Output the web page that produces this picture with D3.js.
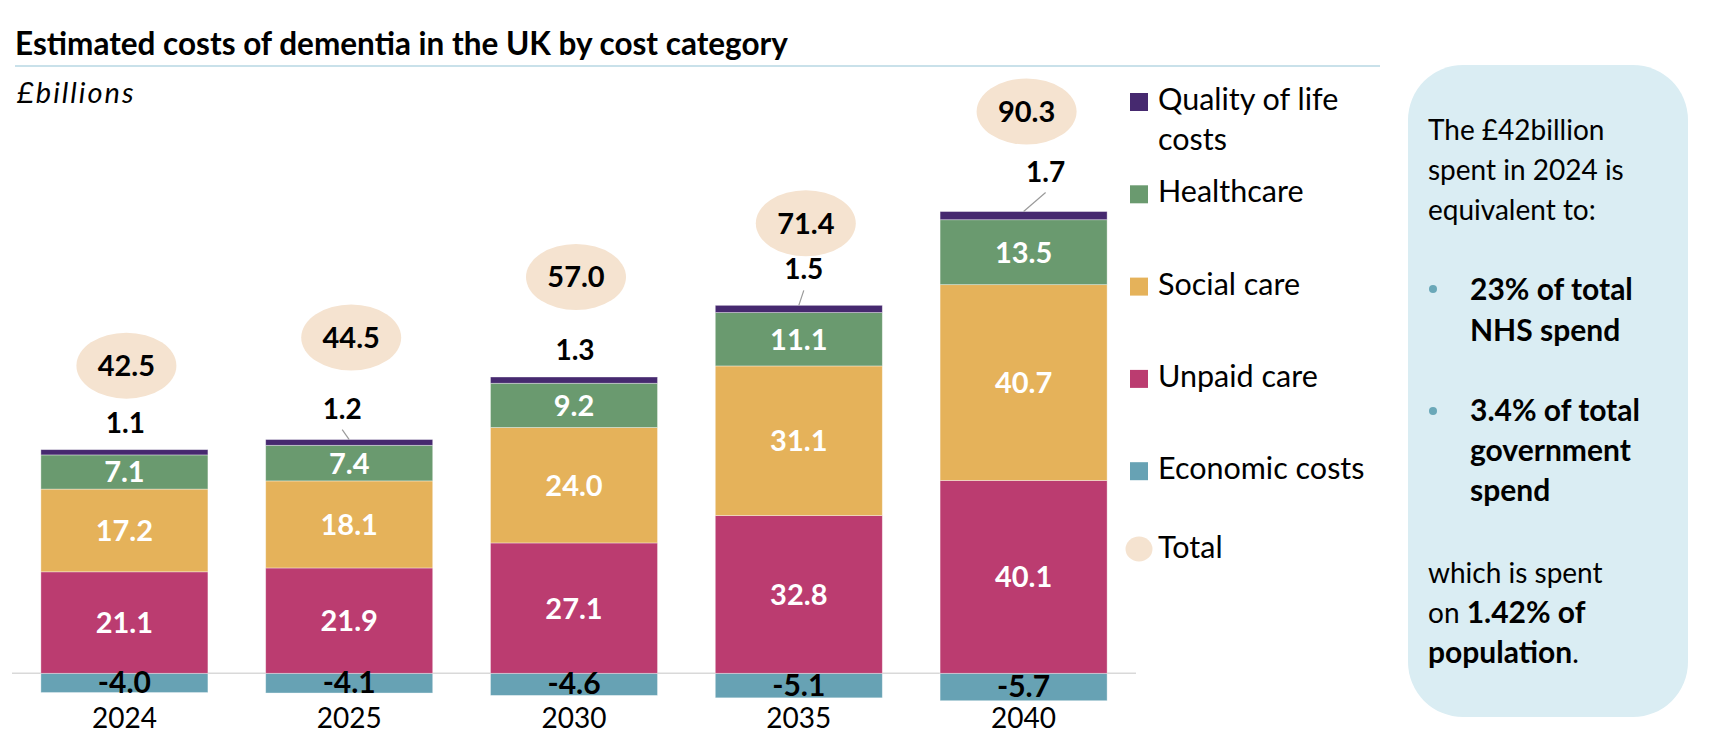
<!DOCTYPE html>
<html>
<head>
<meta charset="utf-8">
<script src="https://cdn.jsdelivr.net/npm/d3@7"></script>
<style>
  body { margin: 0; background: #fff; }
  text { font-family: Lato, "Open Sans", sans-serif; }
</style>
</head>
<body>
<div id="chart"></div>
<script>
// values (£ billions)
const years = ["2024", "2025", "2030", "2035", "2040"];
const economicCosts = [-4.0, -4.1, -4.6, -5.1, -5.7];
const unpaidCare = [21.1, 21.9, 27.1, 32.8, 40.1];
const socialCare = [17.2, 18.1, 24.0, 31.1, 40.7];
const healthcare = [7.1, 7.4, 9.2, 11.1, 13.5];
const qualityOfLife = [1.1, 1.2, 1.3, 1.5, 1.7];
const totals = [42.5, 44.5, 57.0, 71.4, 90.3];

const keys = ["economic", "unpaid", "social", "health", "quality"];
const legendNames = {
  quality: ["Quality of life", "costs"],
  health: ["Healthcare"],
  social: ["Social care"],
  unpaid: ["Unpaid care"],
  economic: ["Economic costs"]
};
const colors = {
  quality: "#46296f",
  health: "#6a9a6f",
  social: "#e5b25a",
  unpaid: "#bb3c70",
  economic: "#67a2b4"
};

// label placement tweaks (the original labels were dragged by hand)
const qolDx = [1, -7, 1, 5, 22];
const qolGap = [17, 21, 17, 26, 30];
const totalDx = [2, 2, 2, 7, 3];
const totalLift = [84, 102, 100, 82, 100];

const width = 1716, height = 748;

const rows = years.map((yr, i) => ({
  year: yr,
  economic: economicCosts[i],
  unpaid: unpaidCare[i],
  social: socialCare[i],
  health: healthcare[i],
  quality: qualityOfLife[i]
}));

const stacked = d3.stack().keys(keys).offset(d3.stackOffsetDiverging)(rows);

const svg = d3.select("#chart").append("svg")
  .attr("width", width)
  .attr("height", height);

const x = d3.scaleBand()
  .domain(years)
  .range([12, 1136])
  .paddingInner(0.257)
  .paddingOuter(0.1285);

const y = d3.scaleLinear()
  .domain([-10, 110])
  .range([721.4, 144.2]);

const cx = d => x(d) + x.bandwidth() / 2;

// title + rule
svg.append("text")
  .attr("x", 15).attr("y", 55)
  .attr("font-size", 31.5).attr("font-weight", 700)
  .text("Estimated costs of dementia in the UK by cost category");

svg.append("line")
  .attr("x1", 15).attr("x2", 1380)
  .attr("y1", 66).attr("y2", 66)
  .attr("stroke", "#c9e1ea").attr("stroke-width", 2);

svg.append("text")
  .attr("x", 17).attr("y", 103)
  .attr("font-size", 29).attr("font-style", "italic")
  .attr("letter-spacing", 2)
  .text("£billions");

// zero line
svg.append("line")
  .attr("x1", 12).attr("x2", 1136)
  .attr("y1", y(0)).attr("y2", y(0))
  .attr("stroke", "#d9d9d9").attr("stroke-width", 1.5);

// bars
const layer = svg.append("g").selectAll("g")
  .data(stacked)
  .join("g")
  .attr("fill", s => colors[s.key]);

layer.selectAll("rect")
  .data(s => s)
  .join("rect")
  .attr("x", d => x(d.data.year))
  .attr("width", x.bandwidth())
  .attr("y", d => y(Math.max(d[0], d[1])))
  .attr("height", d => Math.abs(y(d[0]) - y(d[1])))
  .attr("stroke", "#ffffff")
  .attr("stroke-opacity", 0.45)
  .attr("stroke-width", 0.8);

// x axis (years)
const xAxis = svg.append("g")
  .attr("transform", `translate(0,${y(0)})`)
  .call(d3.axisBottom(x).tickSize(0).tickPadding(35));
xAxis.select(".domain").remove();
xAxis.selectAll("text")
  .attr("font-size", 28)
  .attr("font-family", "Lato, 'Open Sans', sans-serif")
  .attr("fill", "#000");

// white labels inside the middle segments
stacked.filter(s => ["unpaid", "social", "health"].includes(s.key)).forEach(s => {
  svg.append("g").selectAll("text")
    .data(s)
    .join("text")
    .attr("x", d => cx(d.data.year))
    .attr("y", d => y((d[0] + d[1]) / 2))
    .attr("dy", "0.36em")
    .attr("text-anchor", "middle")
    .attr("font-size", 29).attr("font-weight", 700)
    .attr("fill", "#fff")
    .text(d => d.data[s.key].toFixed(1));
});

// economic cost labels (negative)
const econ = stacked.find(s => s.key === "economic");
svg.append("g").selectAll("text")
  .data(econ)
  .join("text")
  .attr("x", d => cx(d.data.year))
  .attr("y", d => y((d[0] + d[1]) / 2) + 10)
  .attr("text-anchor", "middle")
  .attr("font-size", 30).attr("font-weight", 700)
  .attr("fill", "#000")
  .text(d => d.data.economic.toFixed(1));

// quality of life labels above the bars, with leader lines
const qol = stacked.find(s => s.key === "quality");
qol.forEach((d, i) => {
  const top = y(d[1]);
  const lx = cx(d.data.year) + qolDx[i];
  const base = top - qolGap[i];
  if (qolGap[i] > 20) {
    svg.append("line")
      .attr("x1", lx).attr("y1", base + 11)
      .attr("x2", cx(d.data.year)).attr("y2", top)
      .attr("stroke", "#9a9a9a").attr("stroke-width", 1.2);
  }
  svg.append("text")
    .attr("x", lx).attr("y", base)
    .attr("text-anchor", "middle")
    .attr("font-size", 28).attr("font-weight", 700)
    .text(d.data.quality.toFixed(1));
});

// totals in peach ellipses
const totalG = svg.append("g").selectAll("g")
  .data(qol)
  .join("g")
  .attr("transform", (d, i) =>
    `translate(${cx(d.data.year) + totalDx[i]},${y(d[1]) - totalLift[i]})`);

totalG.append("ellipse")
  .attr("rx", 50).attr("ry", 33)
  .attr("fill", "#f5e3d0");

totalG.append("text")
  .attr("text-anchor", "middle")
  .attr("dy", "0.36em")
  .attr("font-size", 29).attr("font-weight", 700)
  .text((d, i) => totals[i].toFixed(1));

// legend
const legendOrder = ["quality", "health", "social", "unpaid", "economic"];
const rowY = i => 110 + i * 92.3;
const legend = svg.append("g");
legendOrder.forEach((k, i) => {
  const by = rowY(i);
  legend.append("rect")
    .attr("x", 1130).attr("y", by - 17)
    .attr("width", 18).attr("height", 18)
    .attr("fill", colors[k]);
  legendNames[k].forEach((line, j) => {
    legend.append("text")
      .attr("x", 1158).attr("y", by + j * 40)
      .attr("font-size", 30.5)
      .text(line);
  });
});
legend.append("ellipse")
  .attr("cx", 1139).attr("cy", 549)
  .attr("rx", 13.5).attr("ry", 12.5)
  .attr("fill", "#f5e3d0");
legend.append("text")
  .attr("x", 1158).attr("y", 558)
  .attr("font-size", 30.5)
  .text("Total");

// side box
svg.append("rect")
  .attr("x", 1408).attr("y", 65)
  .attr("width", 280).attr("height", 652)
  .attr("rx", 55).attr("ry", 55)
  .attr("fill", "#daedf3");

const boxLines = [
  { x: 1428, y: 140, parts: [["The £42billion", 400]] },
  { x: 1428, y: 180, parts: [["spent in 2024 is", 400]] },
  { x: 1428, y: 220, parts: [["equivalent to:", 400]] },
  { x: 1470, y: 300, parts: [["23% of total", 700]] },
  { x: 1470, y: 341, parts: [["NHS spend", 700]] },
  { x: 1470, y: 421, parts: [["3.4% of total", 700]] },
  { x: 1470, y: 461, parts: [["government", 700]] },
  { x: 1470, y: 501, parts: [["spend", 700]] },
  { x: 1428, y: 583, parts: [["which is spent", 400]] },
  { x: 1428, y: 623, parts: [["on ", 400], ["1.42% of", 700]] },
  { x: 1428, y: 663, parts: [["population", 700], [".", 400]] }
];
boxLines.forEach(l => {
  const t = svg.append("text")
    .attr("x", l.x).attr("y", l.y)
    .attr("font-size", 28);
  l.parts.forEach(p => t.append("tspan")
    .attr("font-weight", p[1])
    .attr("font-size", p[1] === 700 ? 30 : 28)
    .text(p[0]));
});

[289, 411].forEach(by => {
  svg.append("circle")
    .attr("cx", 1433).attr("cy", by)
    .attr("r", 4)
    .attr("fill", "#6aa8b8");
});
</script>
</body>
</html>
